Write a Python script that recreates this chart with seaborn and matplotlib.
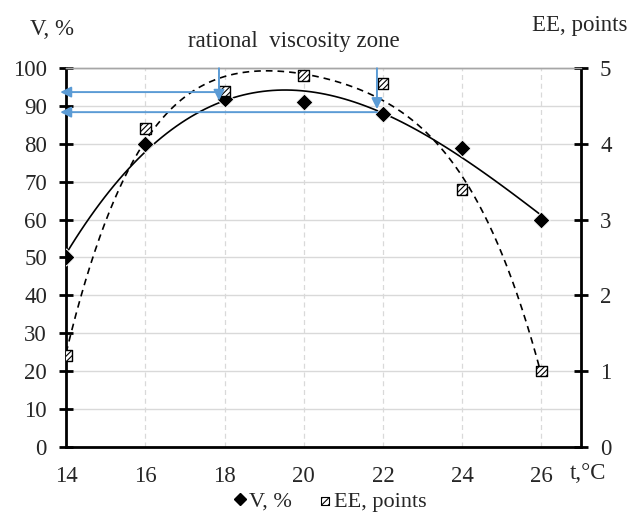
"""Viscosity (V) and expert evaluation (EE) against temperature."""

import matplotlib
matplotlib.use("Agg")
import matplotlib.pyplot as plt
from matplotlib.lines import Line2D
import seaborn as sns

sns.set_theme(style="white")
plt.rcParams["font.family"] = ["Liberation Serif", "DejaVu Serif"]
plt.rcParams["hatch.linewidth"] = 0.8

# data
temp = [14, 16, 18, 20, 22, 24, 26]
visc = [50, 80, 92, 91, 88, 79, 60]          # V, %
ee_points = [1.2, 4.2, 4.7, 4.9, 4.8, 3.4, 1.0]  # EE, points

x_ticks = [14, 16, 18, 20, 22, 24, 26]
v_ticks = list(range(0, 101, 10))
ee_ticks = [0, 1, 2, 3, 4, 5]

# rational zone markers (t, V)
zone_left = (17.86, 93.7, 91.4)
zone_right = (21.85, 88.4, 89.2)

FS = 16.5
BLUE = "#5b9bd5"

fig = plt.figure(figsize=(6.3, 5.17), dpi=100)
ax = fig.add_axes([0.105, 0.136, 0.817, 0.732])
ax2 = ax.twinx()

# trend lines
sns.regplot(x=temp, y=visc, order=3, ci=None, scatter=False, truncate=True,
            line_kws=dict(color="black", lw=1.2), ax=ax)
sns.regplot(x=temp, y=ee_points, order=4, ci=None, scatter=False, truncate=True,
            line_kws=dict(color="black", lw=1.2, ls=(0, (4, 3))), ax=ax2)

# points
sns.scatterplot(x=temp, y=visc, marker="D", s=75, color="black", ax=ax, zorder=5)
sns.scatterplot(x=temp, y=ee_points, marker="s", s=60, facecolor="white",
                edgecolor="black", linewidth=1.0, hatch="//////", ax=ax2, zorder=5)

# blue arrows for the rational viscosity zone (drawn on top axes)
arrow = dict(arrowstyle="-|>", color=BLUE, lw=1.4, mutation_scale=16,
             shrinkA=0, shrinkB=0)
for xz, yh, ytip in [zone_left, zone_right]:
    ax2.annotate("", xy=(13.85, yh), xytext=(xz, yh), xycoords=ax.transData,
                 textcoords=ax.transData, arrowprops=arrow,
                 annotation_clip=False, zorder=6)
    ax2.annotate("", xy=(xz, ytip), xytext=(xz, 100), xycoords=ax.transData,
                 textcoords=ax.transData, arrowprops=arrow,
                 annotation_clip=False, zorder=6)

ax.set_xlim(14, 27)
ax.set_ylim(0, 100)
ax2.set_ylim(0, 5)
ax.set_xticks(x_ticks)
ax.set_yticks(v_ticks)
ax2.set_yticks(ee_ticks)

ax.grid(axis="y", color="#d9d9d9", lw=1.0, ls="-")
for xv in x_ticks[1:]:
    ax.axvline(xv, color="#d9d9d9", lw=0.9, ls=(0, (4, 3)), zorder=0)
ax.set_axisbelow(True)

for a in (ax, ax2):
    for side in ("left", "right", "bottom"):
        a.spines[side].set_color("black")
        a.spines[side].set_linewidth(2.0)
    a.spines["top"].set_color("#a6a6a6")
    a.spines["top"].set_linewidth(1.0)
    a.tick_params(direction="inout", length=9.6, width=2.0, color="black",
                  labelsize=FS, pad=9)
ax.spines["right"].set_visible(False)
ax2.spines["left"].set_visible(False)
ax2.spines["bottom"].set_visible(False)
ax.tick_params(axis="y", right=False)
ax2.tick_params(axis="y", left=False)

fig.text(0.083, 0.942, "V, %", fontsize=FS, ha="center", va="center")
fig.text(0.467, 0.919, "rational  viscosity zone", fontsize=FS, ha="center", va="center")
fig.text(0.921, 0.950, "EE, points", fontsize=FS, ha="center", va="center")
fig.text(0.933, 0.085, "t,\u00b0C", fontsize=FS, ha="center", va="center")

handles = [
    Line2D([], [], ls="none", marker="D", color="black", markersize=6),
    ax2.scatter([], [], marker="s", s=30, facecolor="white", edgecolor="black",
                linewidth=0.8, hatch="/////"),
]
fig.legend(handles, ["V, %", "EE, points"], loc="center", ncol=2,
           bbox_to_anchor=(0.52, 0.03), frameon=False, fontsize=FS - 0.5,
           handletextpad=-0.1, columnspacing=1.0, handlelength=1.0,
           borderpad=0.1)

fig.savefig("out.png", dpi=100)
